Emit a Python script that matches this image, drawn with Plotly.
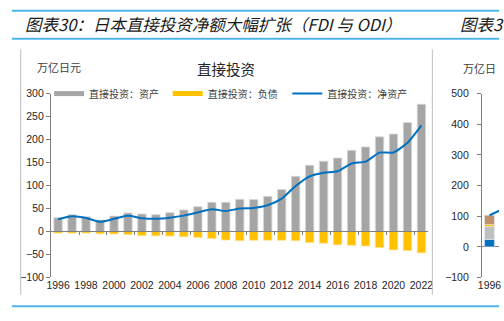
import plotly.graph_objects as go

# ---------------- data ----------------
years = list(range(1996, 2023))
assets = [30, 36.5, 32, 25, 33.5, 40.5, 38, 36.5, 41, 47, 54, 63.5, 63.5, 70,
          69.5, 76.5, 91.5, 120, 144, 153, 160, 176.5, 184, 206, 212, 237, 277]
liabilities = [-3.5, -3.5, -3.5, -5, -5.5, -6.5, -9, -9.5, -10, -11.5, -13, -15.5,
               -18.5, -20, -19, -19, -19, -20, -24, -25.5, -29, -30, -31.5, -35,
               -40, -41.5, -46.5]
net = [26.5, 33, 29.5, 21, 27.5, 34, 29, 27.5, 30, 34.5, 41.5, 48.5, 44.5, 50,
       51, 57, 71.5, 99, 120, 128, 131, 148, 152, 171.5, 172, 193, 231]

# right-hand (cut-off) chart
r_years = [1996]
r_blue = [24]
r_gray = [42]
r_yellow = [7]
r_brown = [30]
r_line_years = [1996, 1997]
r_line = [103, 125]

tick_years = years[::2]
tick_text = [str(y) for y in tick_years]
mark_pos = [y + 0.5 for y in years[1::2]]
ytick_vals = [-100, -50, 0, 50, 100, 150, 200, 250, 300]
r_ytick_vals = [-100, 0, 100, 200, 300, 400, 500]

W, H = 504, 321
def px(x):
    return x / W
def py(y):
    return 1 - y / H

NUMFONT = dict(family="Liberation Sans, Arial", size=10.5, color="#262626")
CJK = "Noto Sans CJK SC"
AXC = "#7f7f7f"

x_dom = [px(47), px(432)]
y_dom = [py(282), py(91)]
zero_pos = y_dom[0] + (0 - (-100)) / 400 * (y_dom[1] - y_dom[0])

fig = go.Figure()

fig.add_trace(go.Bar(x=years, y=assets, name="直接投资：资产", width=0.6,
                     marker=dict(color="#A5A5A5", line=dict(color="#D9D9D9", width=0.8)),
                     showlegend=False, xaxis="x", yaxis="y"))
fig.add_trace(go.Bar(x=years, y=liabilities, name="直接投资：负债", width=0.6,
                     marker=dict(color="#FFC000", line=dict(color="#FFE08A", width=0.8)),
                     showlegend=False, xaxis="x", yaxis="y"))
fig.add_trace(go.Scatter(x=years, y=net, name="直接投资：净资产", mode="lines",
                         line=dict(color="#0070C0", width=2, shape="spline", smoothing=0.6),
                         xaxis="x2", yaxis="y", legend="legend3"))
# legend swatches for the bars
fig.add_trace(go.Scatter(x=[None], y=[None], mode="lines", name="直接投资：资产",
                         line=dict(color="#A5A5A5", width=5), legend="legend",
                         xaxis="x2", yaxis="y"))
fig.add_trace(go.Scatter(x=[None], y=[None], mode="lines", name="直接投资：负债",
                         line=dict(color="#FFC000", width=5), legend="legend2",
                         xaxis="x2", yaxis="y"))

# right chart
for vals, col, nm in [(r_blue, "#0070C0", "直接投资"), (r_gray, "#BFBFBF", "证券投资"),
                      (r_yellow, "#FFC000", "金融衍生品"), (r_brown, "#C0906B", "其他投资")]:
    fig.add_trace(go.Bar(x=r_years, y=vals, name=nm, width=0.66, marker=dict(color=col),
                         showlegend=False, xaxis="x3", yaxis="y3"))
fig.add_trace(go.Scatter(x=r_line_years, y=r_line, mode="lines", name="对外净资产",
                         line=dict(color="#0070C0", width=2), showlegend=False,
                         xaxis="x3", yaxis="y3"))

leg_common = dict(orientation="h", yanchor="middle", y=py(91), xanchor="left",
                  font=dict(family=CJK, size=10, color="#404040"),
                  bgcolor="rgba(0,0,0,0)", borderwidth=0, itemwidth=30)

fig.update_layout(
    width=W, height=H, margin=dict(l=0, r=0, t=0, b=0),
    paper_bgcolor="white", plot_bgcolor="white",
    barmode="relative",
    legend=dict(x=px(45), **leg_common),
    legend2=dict(x=px(166), **leg_common),
    legend3=dict(x=px(288), **leg_common),
    xaxis=dict(domain=x_dom, range=[1995.5, 2022.5], anchor="free", position=zero_pos,
               showline=True, linecolor=AXC, linewidth=1, ticks="outside", ticklen=3,
               tickcolor=AXC, tickvals=mark_pos, showticklabels=False,
               showgrid=False, zeroline=False),
    xaxis2=dict(overlaying="x", matches="x", anchor="y", side="bottom",
                tickvals=tick_years, ticktext=tick_text, ticks="", showline=False,
                showgrid=False, zeroline=False, tickfont=NUMFONT),
    yaxis=dict(domain=y_dom, range=[-100, 300], anchor="x", tickvals=ytick_vals,
               showline=True, linecolor=AXC, linewidth=1.3, ticks="outside", ticklen=4,
               tickcolor=AXC, showgrid=False, zeroline=False, tickfont=NUMFONT),
    xaxis3=dict(domain=[px(486.7), 1.0], range=[1995.5, 1996.64], anchor="y3",
                tickvals=[1996], ticktext=["1996"], ticks="", showline=False,
                showgrid=False, zeroline=False, tickfont=NUMFONT),
    yaxis3=dict(domain=y_dom, range=[-100, 500], anchor="x3", tickvals=r_ytick_vals,
                showline=True, linecolor=AXC, linewidth=1.3, ticks="outside", ticklen=4,
                tickcolor=AXC, showgrid=False, zeroline=True, zerolinecolor=AXC,
                zerolinewidth=1, tickfont=NUMFONT, ticklabelstandoff=6),
)

BLUE = "#4DB8E8"
GRAYSEP = "#BFBFBF"
def hline(y):
    return dict(type="line", xref="paper", yref="paper", x0=px(7), x1=1, y0=py(y), y1=py(y),
                line=dict(color=BLUE, width=2))
def vline(x):
    return dict(type="line", xref="paper", yref="paper", x0=px(x), x1=px(x), y0=py(45),
                y1=py(300), line=dict(color=GRAYSEP, width=1))
fig.update_layout(shapes=[hline(5), hline(34), hline(312), vline(16), vline(436)])

def note(text, x, y, size, color, anchor="left"):
    return dict(text=text, x=px(x), y=py(y), xref="paper", yref="paper",
                xanchor=anchor, yanchor="middle", showarrow=False,
                font=dict(family=CJK, size=size, color=color))

fig.update_layout(annotations=[
    note("<i>图表30：日本直接投资净额大幅扩张（FDI 与 ODI）</i>", 18, 19, 16.5, "#1a1a1a"),
    note("<i>图表3</i>", 462, 19, 16.5, "#1a1a1a"),
    note("直接投资", 225, 65, 14.5, "#262626", "center"),
    note("万亿日元", 31, 63, 11, "#404040"),
    note("万亿日", 465, 64, 11, "#404040"),
])

fig.write_html("out.html")
